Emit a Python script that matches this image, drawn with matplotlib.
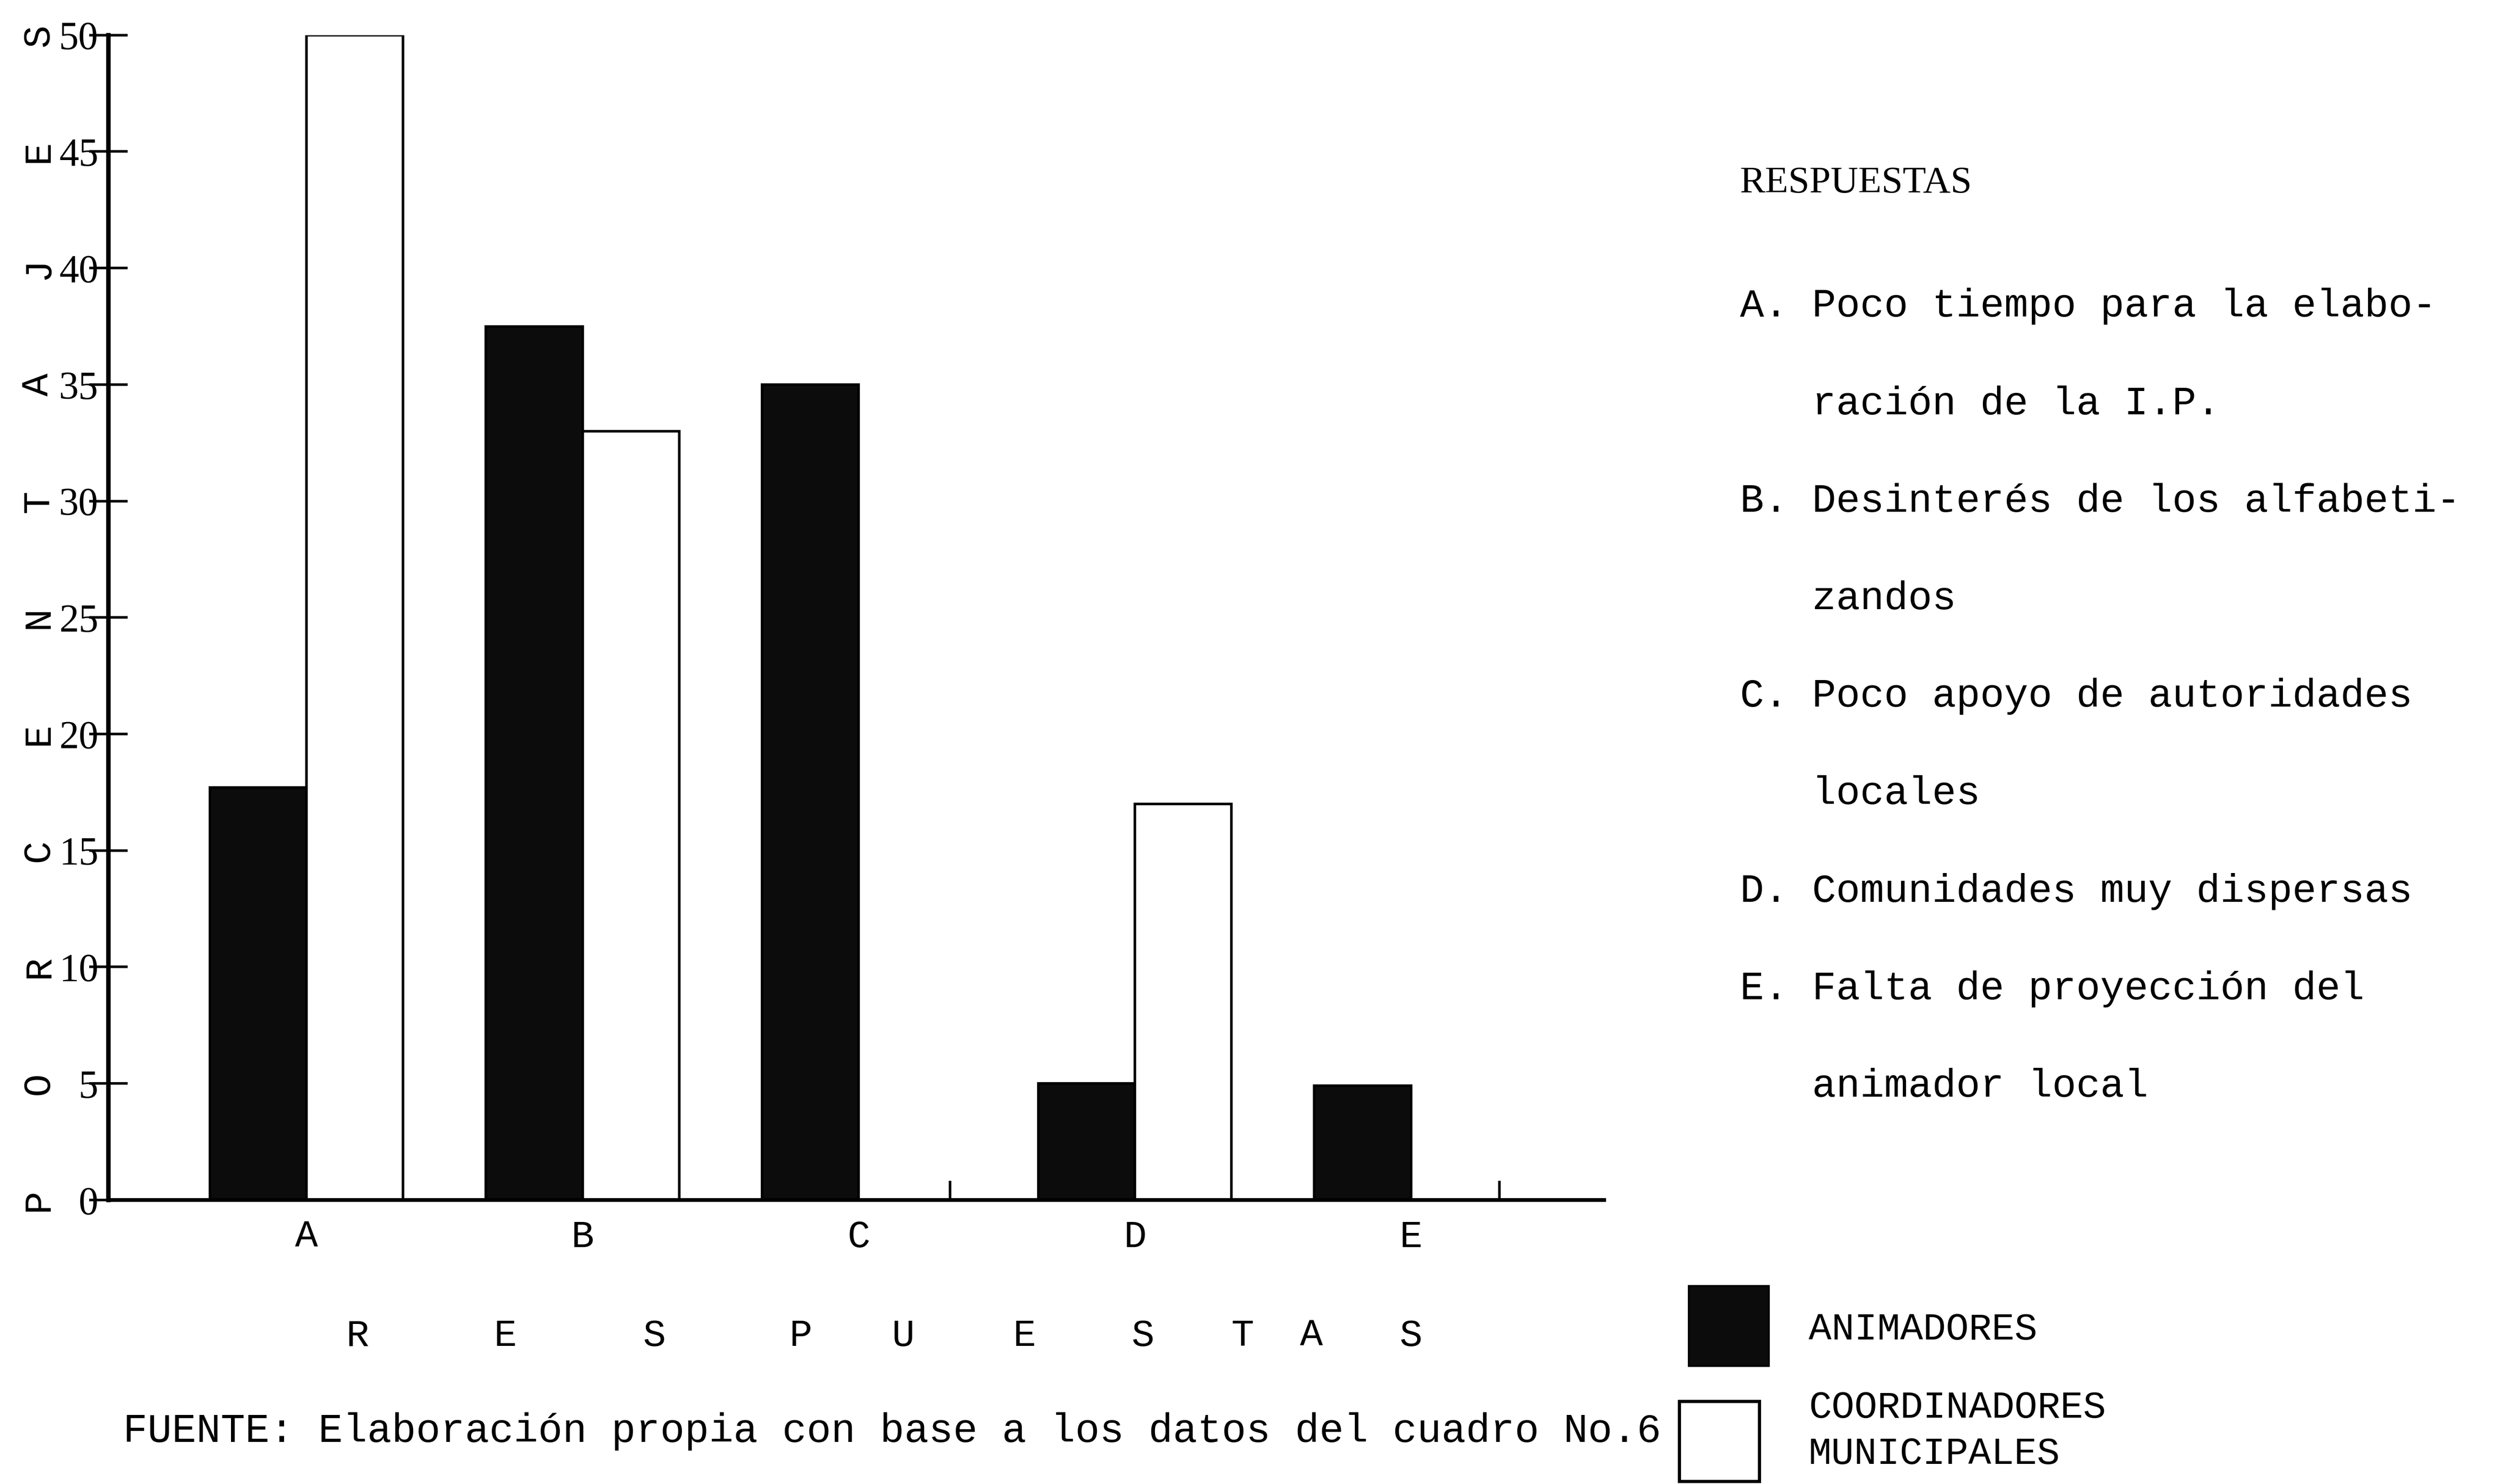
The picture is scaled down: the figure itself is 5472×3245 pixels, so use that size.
import matplotlib
matplotlib.use("Agg")
import matplotlib.pyplot as plt
import numpy as np

# DATA
categorias = ["A", "B", "C", "D", "E"]
animadores = [17.7, 37.5, 35.0, 5.0, 4.9]
coordinadores = [50.0, 33.0, 0, 17.0, 0]
y_ticks = [0, 5, 10, 15, 20, 25, 30, 35, 40, 45, 50]
letras_y = list("PORCENTAJES")
letras_x = list("RESPUESTAS")
respuestas = [
    "A. Poco tiempo para la elabo-",
    "   ración de la I.P.",
    "B. Desinterés de los alfabeti-",
    "   zandos",
    "C. Poco apoyo de autoridades",
    "   locales",
    "D. Comunidades muy dispersas",
    "E. Falta de proyección del",
    "   animador local",
]

# FIGURE
W, H = 5472, 3245
fig = plt.figure(figsize=(W / 100, H / 100), dpi=100)
mono = "Liberation Mono"
serif = "Liberation Serif"

ax = fig.add_axes([68 / 1568, 1 - 752 / 930, (1005 - 68) / 1568, (752 - 22) / 930])
x = np.arange(len(categorias))
w = 0.35
ax.bar(x - w / 2, animadores, w, color="#0c0c0c", edgecolor="black", linewidth=4)
# only draw the white bars that exist
mask = np.array(coordinadores) > 0
ax.bar(x[mask] + w / 2, np.array(coordinadores)[mask], w, color="white",
       edgecolor="black", linewidth=4)

ax.set_xlim(-0.717, 4.70)
ax.set_ylim(0, 50)
for s in ["top", "right"]:
    ax.spines[s].set_visible(False)
ax.spines["left"].set_linewidth(7)
ax.spines["bottom"].set_linewidth(6)

ax.set_yticks(y_ticks)
ax.set_yticklabels([str(t) for t in y_ticks], fontfamily=serif, fontsize=62)
ax.tick_params(axis="y", direction="inout", length=60, width=4, pad=-14)
ax.set_xticks(x)
ax.set_xticklabels(categorias, fontfamily=mono, fontsize=60)
ax.tick_params(axis="x", length=0, pad=30)
ax.set_xticks([2.33, 4.32], minor=True)
ax.tick_params(axis="x", which="minor", direction="in", length=30, width=4)

# vertical axis label, letter by letter next to the ticks
tr_y = matplotlib.transforms.blended_transform_factory(fig.transFigure, ax.transData)
for t, letra in zip(y_ticks, letras_y):
    ax.text(24 / 1568, t, letra, transform=tr_y, rotation=90, ha="center",
            va="center", fontfamily=mono, fontsize=60)

# horizontal axis label
pos_x = [0.185, 0.72, 1.26, 1.79, 2.16, 2.6, 3.03, 3.39, 3.64, 4.0]
tr_x = matplotlib.transforms.blended_transform_factory(ax.transData, fig.transFigure)
for px, letra in zip(pos_x, letras_x):
    ax.text(px, 1 - 837 / 930, letra, transform=tr_x, ha="center", va="center",
            fontfamily=mono, fontsize=60)

# side list of answers
fig.text(1090 / 1568, 1 - 115 / 930, "RESPUESTAS", fontfamily=serif, fontsize=60,
         ha="left", va="center")
for i, linea in enumerate(respuestas):
    fig.text(1090 / 1568, 1 - (192 + 61.1 * i) / 930, linea, fontfamily=mono,
             fontsize=63, ha="left", va="center")

# legend boxes
fig.patches.append(plt.Rectangle((1058 / 1568, 1 - 856 / 930), 50 / 1568, 50 / 930,
                                 transform=fig.transFigure, facecolor="#0c0c0c",
                                 edgecolor="black", linewidth=3))
fig.patches.append(plt.Rectangle((1052 / 1568, 0.002), 50 / 1568, 50 / 930,
                                 transform=fig.transFigure, facecolor="white",
                                 edgecolor="black", linewidth=5))
fig.text(1133 / 1568, 1 - 833 / 930, "ANIMADORES", fontfamily=mono, fontsize=60,
         ha="left", va="center")
fig.text(1133 / 1568, 1 - 882 / 930, "COORDINADORES", fontfamily=mono, fontsize=60,
         ha="left", va="center")
fig.text(1133 / 1568, 1 - 911 / 930, "MUNICIPALES", fontfamily=mono, fontsize=60,
         ha="left", va="center")

fig.text(77 / 1568, 1 - 897 / 930,
         "FUENTE: Elaboración propia con base a los datos del cuadro No.6",
         fontfamily=mono, fontsize=64, ha="left", va="center")

fig.savefig("out.png", dpi=100, facecolor="white")
